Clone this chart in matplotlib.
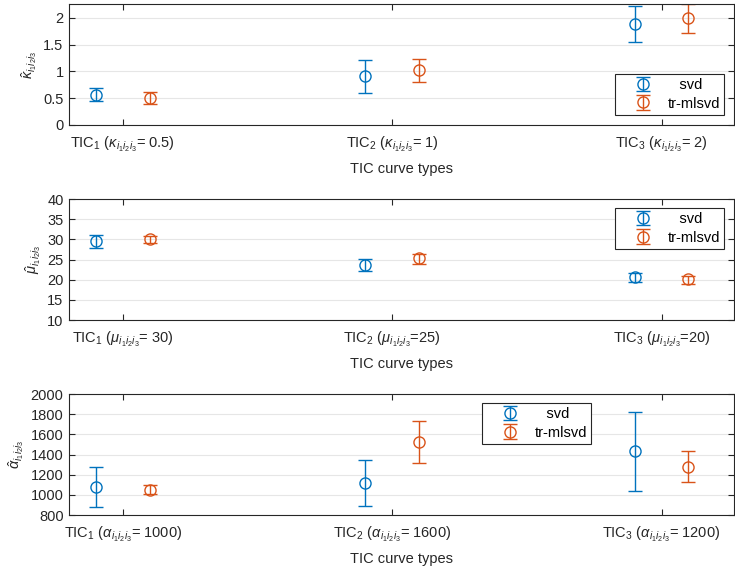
import matplotlib
matplotlib.use("Agg")
import matplotlib.pyplot as plt
import numpy as np

plt.rcParams['font.family'] = ['Liberation Sans', 'DejaVu Sans']
plt.rcParams['mathtext.fontset'] = 'custom'
plt.rcParams['mathtext.rm'] = 'Liberation Sans'
plt.rcParams['mathtext.it'] = 'Liberation Sans:italic'
plt.rcParams['font.size'] = 10

# TIC curve types on the x axis
tic_pos = [1, 2, 3]
method_names = ['   svd', 'tr-mlsvd']

# kappa estimates: mean, lower and upper error
kappa_svd = [0.56, 0.92, 1.89]
kappa_svd_lo = [0.12, 0.33, 0.34]
kappa_svd_hi = [0.13, 0.29, 0.34]
kappa_tr = [0.50, 1.03, 1.99]
kappa_tr_lo = [0.11, 0.22, 0.28]
kappa_tr_hi = [0.11, 0.21, 0.27]
kappa_true = ['0.5', '1', '2']

# mu estimates
mu_svd = [29.6, 23.6, 20.6]
mu_svd_lo = [1.7, 1.4, 1.1]
mu_svd_hi = [1.6, 1.5, 1.0]
mu_tr = [30.0, 25.3, 20.1]
mu_tr_lo = [1.0, 1.3, 1.1]
mu_tr_hi = [0.9, 1.1, 0.8]
mu_true = [' 30', '25', '20']

# alpha estimates
alpha_svd = [1082, 1116, 1430]
alpha_svd_lo = [199, 226, 391]
alpha_svd_hi = [199, 225, 393]
alpha_tr = [1049, 1524, 1281]
alpha_tr_lo = [43, 209, 155]
alpha_tr_hi = [47, 205, 149]
alpha_true = ['1000', '1600', '1200']

blue = '#0072BD'
orange = '#D95319'
axcol = '#262626'

fig = plt.figure(figsize=(7.35, 5.76), dpi=100)

panels = [
    dict(rect=[0.094, 0.783, 0.905, 0.210], sym=r'\kappa', vals=(kappa_svd, kappa_svd_lo, kappa_svd_hi,
         kappa_tr, kappa_tr_lo, kappa_tr_hi), true=kappa_true, sep='= ',
         ylim=(0, 2.26), yticks=[0, 0.5, 1, 1.5, 2], yfmt=['0', '0.5', '1', '1.5', '2'],
         leg=(0.985, 0.083)),
    dict(rect=[0.094, 0.4444, 0.905, 0.210], sym=r'\mu', vals=(mu_svd, mu_svd_lo, mu_svd_hi,
         mu_tr, mu_tr_lo, mu_tr_hi), true=mu_true, sep='=',
         ylim=(10, 40), yticks=[10, 15, 20, 25, 30, 35, 40], yfmt=None,
         leg=(0.985, 0.587)),
    dict(rect=[0.094, 0.1059, 0.905, 0.210], sym=r'\alpha', vals=(alpha_svd, alpha_svd_lo, alpha_svd_hi,
         alpha_tr, alpha_tr_lo, alpha_tr_hi), true=alpha_true, sep='= ',
         ylim=(800, 2000), yticks=list(range(800, 2001, 200)), yfmt=None,
         leg=(0.785, 0.587)),
]

x = np.array(tic_pos, dtype=float)
for p in panels:
    ax = fig.add_axes(p['rect'])
    s_m, s_lo, s_hi, t_m, t_lo, t_hi = p['vals']
    eb_kw = dict(fmt='o', mfc='none', ms=8, capsize=5, elinewidth=1.0, capthick=1.0, mew=1.0)
    ax.errorbar(x - 0.1, s_m, yerr=[s_lo, s_hi], color=blue, label=method_names[0], **eb_kw)
    ax.errorbar(x + 0.1, t_m, yerr=[t_lo, t_hi], color=orange, label=method_names[1], **eb_kw)

    ax.set_xlim(0.8, 3.27)
    ax.set_ylim(*p['ylim'])
    ax.set_yticks(p['yticks'])
    if p['yfmt']:
        ax.set_yticklabels(p['yfmt'])
    ax.set_xticks(tic_pos)
    ax.set_xticklabels([r'TIC$_%d$ ($%s_{i_1i_2i_3}$%s%s)' % (i + 1, p['sym'], p['sep'], v)
                        for i, v in enumerate(p['true'])])
    ax.set_xlabel('TIC curve types', fontsize=10.5, color=axcol, labelpad=6)
    ax.set_ylabel(r'$\hat{%s}_{i_1i_2i_3}$' % p['sym'], fontsize=10.5, color=axcol, labelpad=3)

    ax.grid(axis='y', color='#e6e6e6', lw=0.8)
    ax.set_axisbelow(True)
    ax.tick_params(direction='in', length=4, width=0.8, colors=axcol, labelsize=10.5,
                   top=True, right=True)
    ax.tick_params(axis='x', pad=7)
    ax.tick_params(axis='y', pad=4)
    for sp in ax.spines.values():
        sp.set_color(axcol)
        sp.set_linewidth(0.8)

    leg = ax.legend(loc='lower right', bbox_to_anchor=p['leg'], borderaxespad=0,
                    fancybox=False, framealpha=1, edgecolor=axcol, fontsize=10.5,
                    borderpad=0.3, handlelength=3.2, handletextpad=0.1, labelspacing=0.3)
    leg.get_frame().set_linewidth(0.8)

fig.savefig('out.png', dpi=100)
